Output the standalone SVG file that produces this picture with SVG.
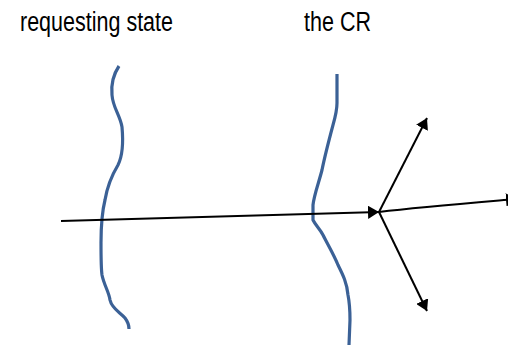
<svg xmlns="http://www.w3.org/2000/svg" width="508" height="345" viewBox="0 0 508 345">
<style>
.lbl{font-family:"Liberation Sans",Arial,sans-serif;font-size:27px;fill:#000}
.wave{fill:none;stroke:#3B6196;stroke-width:3.2;stroke-linecap:butt;stroke-linejoin:round}
.conn{fill:none;stroke:#000;stroke-width:2}
</style>
<defs>
<marker id="ah" viewBox="0 0 10 12" refX="10" refY="6" markerWidth="5.5" markerHeight="6.6" orient="auto" markerUnits="strokeWidth">
<path d="M0,0 L10,6 L0,12 Z" fill="#000"/>
</marker>
</defs>
<rect width="508" height="345" fill="#fff"/>
<g id="label-requesting">
<text class="lbl" x="20" y="31" textLength="153" lengthAdjust="spacingAndGlyphs">requesting state</text>
</g>
<g id="label-cr">
<text class="lbl" x="304" y="31" textLength="67" lengthAdjust="spacingAndGlyphs">the CR</text>
</g>
<g id="boundary-left">
<path class="wave" d="M119,66 C113,75 111,85 112,95 C113,108 120,115 122,127 C123,138 123,155 118,165 C112,175 107,188 105,200 C102,212 101,225 101,243 C101,255 101,268 102,275 C104,285 109,292 110,300 C112,309 120,312 125,318 C128,322 129,326 129,329"/>
</g>
<g id="boundary-right">
<path class="wave" d="M337,74 L337,103 C337,110 335,118 333,125 C329,140 325,155 322,170 C319,182 314,195 313,205 L313,220 C316,226 320,229 323,235 C328,245 334,255 338,265 C343,275 347,283 348,295 C350,305 350,315 350,320 L349,345"/>
</g>
<g id="connectors">
<path class="conn" d="M61,221 L379,212" marker-end="url(#ah)"/>
<path class="conn" d="M379,212 C420,207 470,203 517,199" marker-end="url(#ah)"/>
<path class="conn" d="M379,212 L427,118" marker-end="url(#ah)"/>
<path class="conn" d="M379,212 L427,311" marker-end="url(#ah)"/>
</g>
</svg>
